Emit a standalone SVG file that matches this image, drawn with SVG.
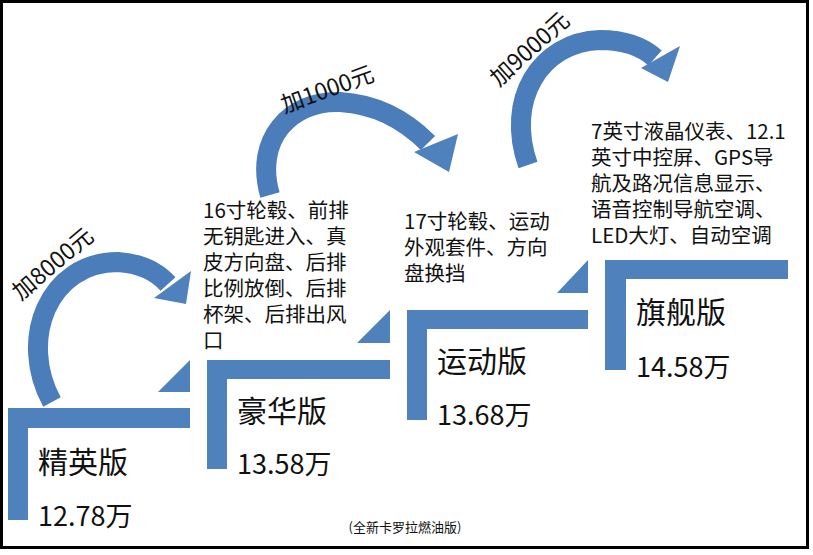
<svg xmlns="http://www.w3.org/2000/svg" width="813" height="555" viewBox="0 0 813 555">
<style>
.s{fill:#4F81BD}
.arc{fill:none;stroke:#4A7DBA;stroke-width:20}
.t{font-family:"Noto Sans CJK SC",sans-serif;fill:#111}
.f{font-size:20.5px}
.h{font-size:30px}
.p{font-size:27px}
</style>
<rect x="0" y="0" width="813" height="555" fill="#fff"/>
<rect x="1.5" y="1.5" width="806" height="546" fill="none" stroke="#000" stroke-width="3"/>
<g id="connectors">
<path class="arc" d="M52 402 C18 340 48 262 118 262 Q150 264 168 284"/>
<polygon class="s" points="154,298 191,271 186,304"/>
<path class="arc" d="M270 195 C254 140 290 100 340 102 Q390 105 428 143"/>
<polygon class="s" points="414,152 458,134 449,172"/>
<path class="arc" d="M528 165 C505 100 540 42 600 40 Q635 40 655 58"/>
<polygon class="s" points="641,68 680,46 668,82"/>
</g>
<g id="step1">
<path class="s" d="M8 408H190V428H28V520H8Z"/>
<polygon class="s" points="158,392 190,392 190,360"/>
<text class="t h" x="38" y="473">精英版</text>
<text class="t p" x="38" y="526">12.78万</text>
<text class="t" font-size="23" transform="translate(58,270) rotate(-40)" text-anchor="middle">加8000元</text>
</g>
<g id="step2">
<path class="s" d="M207 360H390V379H227V469H207Z"/>
<polygon class="s" points="357,343 390,343 390,310"/>
<text class="t h" x="237" y="422">豪华版</text>
<text class="t p" x="237" y="474">13.58万</text>
<text class="t f"><tspan x="203" y="218">16寸轮毂、前排</tspan><tspan x="203" y="244">无钥匙进入、真</tspan><tspan x="203" y="270">皮方向盘、后排</tspan><tspan x="203" y="296">比例放倒、后排</tspan><tspan x="203" y="322">杯架、后排出风</tspan><tspan x="203" y="348">口</tspan></text>
<text class="t" font-size="23" transform="translate(330,97) rotate(-20)" text-anchor="middle">加1000元</text>
</g>
<g id="step3">
<path class="s" d="M407 310H588V329H427V420H407Z"/>
<polygon class="s" points="557,293 588,293 588,260"/>
<text class="t h" x="437" y="372">运动版</text>
<text class="t p" x="437" y="425">13.68万</text>
<text class="t f"><tspan x="404" y="229">17寸轮毂、运动</tspan><tspan x="404" y="255">外观套件、方向</tspan><tspan x="404" y="281">盘换挡</tspan></text>
<text class="t" font-size="23" transform="translate(535,55) rotate(-42)" text-anchor="middle">加9000元</text>
</g>
<g id="step4">
<path class="s" d="M605 260H788V279H626V370H605Z"/>
<text class="t h" x="636" y="323">旗舰版</text>
<text class="t p" x="636" y="377">14.58万</text>
<text class="t f"><tspan x="591" y="139">7英寸液晶仪表、12.1</tspan><tspan x="591" y="165">英寸中控屏、GPS导</tspan><tspan x="591" y="191">航及路况信息显示、</tspan><tspan x="591" y="217">语音控制导航空调、</tspan><tspan x="591" y="243">LED大灯、自动空调</tspan></text>
</g>
<text class="t" font-size="13" x="405" y="532" text-anchor="middle">(全新卡罗拉燃油版)</text>
</svg>
